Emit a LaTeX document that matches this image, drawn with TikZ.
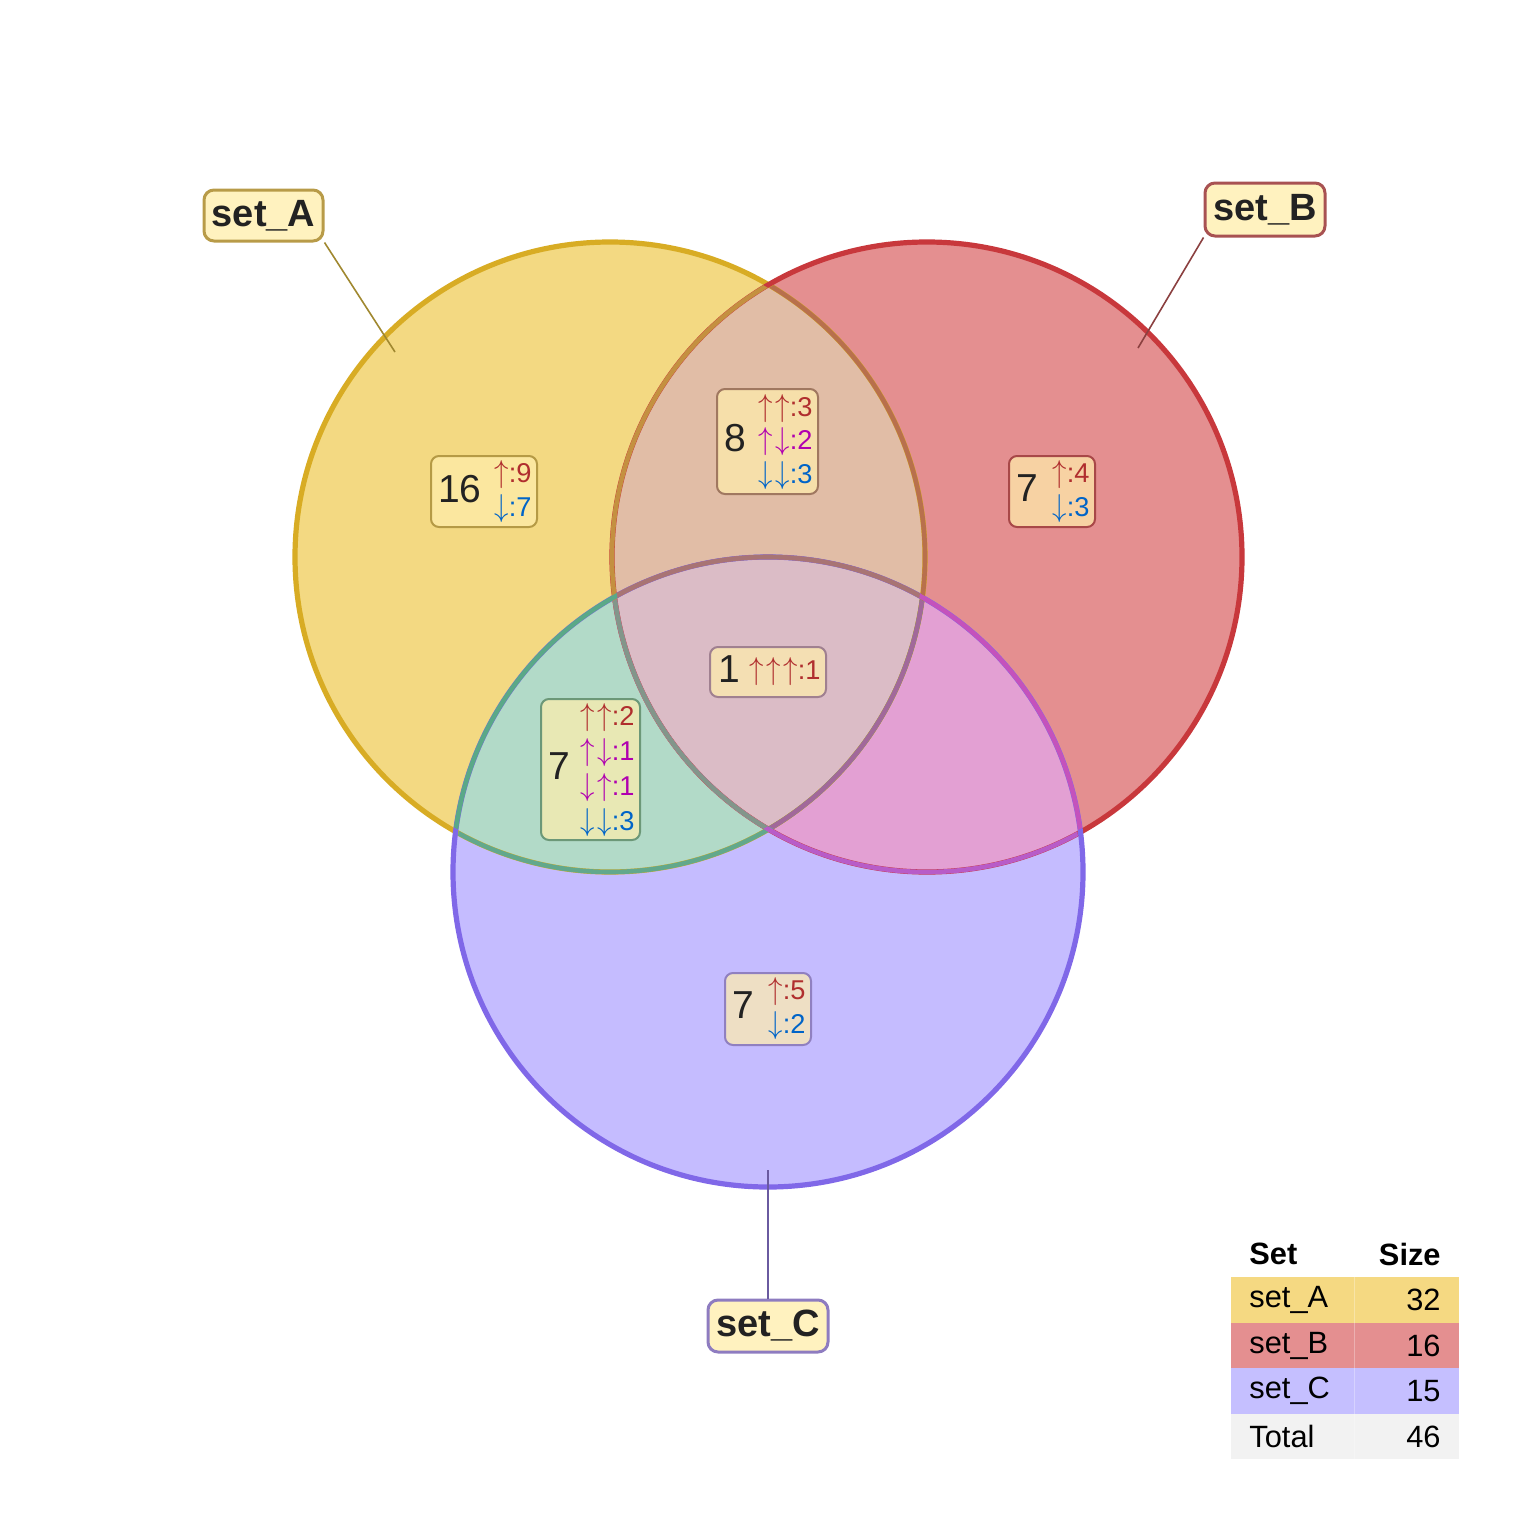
\documentclass[tikz,border=0pt]{standalone}
\usepackage{fontspec}
\usepackage{graphicx}
\setmainfont{Liberation Sans}
\newcommand\myup{\scalebox{1}[1.1]{$\uparrow$}}
\newcommand\mydn{\scalebox{1}[1.1]{$\downarrow$}}
\newcommand\sep{\kern1.2pt}
\definecolor{Afill}{HTML}{F3D982}
\definecolor{Bfill}{HTML}{E48F90}
\definecolor{Cfill}{HTML}{C5BCFF}
\definecolor{ABfill}{HTML}{E1BDA6}
\definecolor{ACfill}{HTML}{B2DAC8}
\definecolor{BCfill}{HTML}{E3A0D3}
\definecolor{ABCfill}{HTML}{DBBCC6}
\definecolor{Astroke}{HTML}{D8AC24}
\definecolor{Bstroke}{HTML}{C8383C}
\definecolor{Cstroke}{HTML}{8068E8}
\definecolor{AinB}{HTML}{B8704C}
\definecolor{AinC}{HTML}{62A88C}
\definecolor{AinBC}{HTML}{A2689A}
\definecolor{BinA}{HTML}{C49040}
\definecolor{BinC}{HTML}{B85CC8}
\definecolor{BinAC}{HTML}{82968A}
\definecolor{CinA}{HTML}{5AA888}
\definecolor{CinB}{HTML}{C452BC}
\definecolor{CinAB}{HTML}{A87474}
\definecolor{boxfill}{HTML}{FFEEAC}
\definecolor{labfill}{HTML}{FFF2BF}
\definecolor{txt}{HTML}{222222}
\definecolor{up}{HTML}{B02E2E}
\definecolor{mix}{HTML}{B000B0}
\definecolor{dn}{HTML}{0064C8}
\definecolor{bxA}{HTML}{B59A45}
\definecolor{bxAB}{HTML}{A07860}
\definecolor{bxB}{HTML}{A84848}
\definecolor{bxAC}{HTML}{6C9878}
\definecolor{bxABC}{HTML}{A08090}
\definecolor{bxC}{HTML}{9080C0}
\definecolor{lbA}{HTML}{B89B48}
\definecolor{lbB}{HTML}{A85252}
\definecolor{lbC}{HTML}{8E7CC0}
\definecolor{lnA}{HTML}{A08830}
\definecolor{lnB}{HTML}{8B4040}
\definecolor{lnC}{HTML}{6A5AA0}
\definecolor{rowA}{HTML}{F5D982}
\definecolor{rowB}{HTML}{E48F90}
\definecolor{rowC}{HTML}{C5BFFF}
\definecolor{rowT}{HTML}{F2F2F2}
\begin{document}
\begin{tikzpicture}[x=0.5pt,y=-0.5pt,
  cnt/.style={font=\fontsize{19.5}{22}\selectfont, text=txt, inner sep=0pt},
  arr/.style={font=\fontsize{13.6}{15}\selectfont, inner sep=0pt, anchor=base east},
  rbox/.style={draw=#1, line width=1pt, rounded corners=4pt, fill=boxfill, fill opacity=0.71, inner sep=0pt},
  setlab/.style={draw=#1, line width=1.5pt, rounded corners=5pt, fill=labfill, font=\bfseries\fontsize{19}{22}\selectfont, text=txt, minimum width=60pt, minimum height=26pt, inner sep=0pt},
  ring/.style={line width=2.6pt, draw=#1},
  iring/.style={line width=2.3pt, draw=#1},
  tab/.style={font=\fontsize{15.4}{18}\selectfont, text=black, inner sep=0pt},
  tabh/.style={font=\bfseries\fontsize{15.4}{18}\selectfont, text=black, inner sep=0pt},
  lead/.style={line width=0.8pt, draw=#1}]
\useasboundingbox (0,0) rectangle (1536,1536);
\coordinate (cA) at (610,557);
\coordinate (cB) at (927,557);
\coordinate (cC) at (768,872);
\def\rr{315}
\def\rc{312}
% region fills
\fill[Afill] (cA) circle[radius=\rr];
\fill[Bfill] (cB) circle[radius=\rr];
\fill[Cfill] (cC) circle[radius=\rr];
\begin{scope}\clip (cA) circle[radius=\rr]; \fill[ABfill] (cB) circle[radius=\rr]; \fill[ACfill] (cC) circle[radius=\rr];\end{scope}
\begin{scope}\clip (cB) circle[radius=\rr]; \fill[BCfill] (cC) circle[radius=\rr];\end{scope}
\begin{scope}\clip (cA) circle[radius=\rr]; \clip (cB) circle[radius=\rr]; \fill[ABCfill] (cC) circle[radius=\rr];\end{scope}
% outer strokes
\draw[ring=Astroke] (cA) circle[radius=\rr];
\draw[ring=Bstroke] (cB) circle[radius=\rr];
\draw[ring=Cstroke] (cC) circle[radius=\rr];
% inner strokes
\begin{scope}\clip (cB) circle[radius=\rc]; \draw[iring=AinB] (cA) circle[radius=\rr];\end{scope}
\begin{scope}\clip (cC) circle[radius=\rc]; \draw[iring=AinC] (cA) circle[radius=\rr];\end{scope}
\begin{scope}\clip (cB) circle[radius=\rc]; \clip (cC) circle[radius=\rc]; \draw[iring=AinBC] (cA) circle[radius=\rr];\end{scope}
\begin{scope}\clip (cA) circle[radius=\rc]; \draw[iring=BinA] (cB) circle[radius=\rr];\end{scope}
\begin{scope}\clip (cC) circle[radius=\rc]; \draw[iring=BinC] (cB) circle[radius=\rr];\end{scope}
\begin{scope}\clip (cA) circle[radius=\rc]; \clip (cC) circle[radius=\rc]; \draw[iring=BinAC] (cB) circle[radius=\rr];\end{scope}
\begin{scope}\clip (cA) circle[radius=\rc]; \draw[iring=CinA] (cC) circle[radius=\rr];\end{scope}
\begin{scope}\clip (cB) circle[radius=\rc]; \draw[iring=CinB] (cC) circle[radius=\rr];\end{scope}
\begin{scope}\clip (cA) circle[radius=\rc]; \clip (cB) circle[radius=\rc]; \draw[iring=CinAB] (cC) circle[radius=\rr];\end{scope}
% region boxes
\node[rbox=bxA, minimum width=53pt, minimum height=35.5pt] (bA) at (484,491.5) {};
\node[cnt] (nA) at (460,489) {16};
\node[arr, text=up] (nA1) at (532,482) {\myup:9};
\node[arr, text=dn] (nA2) at (532,516) {\mydn:7};

\node[rbox=bxAB, minimum width=50.5pt, minimum height=52.5pt] (bAB) at (767.5,441.5) {};
\node[cnt] (nAB) at (735,438) {8};
\node[arr, text=up] (nAB1) at (813,416) {\myup\sep\myup:3};
\node[arr, text=mix] (nAB2) at (813,449) {\myup\sep\mydn:2};
\node[arr, text=dn] (nAB3) at (813,483) {\mydn\sep\mydn:3};

\node[rbox=bxB, minimum width=43pt, minimum height=35.5pt] (bB) at (1052,491.5) {};
\node[cnt] (nB) at (1027,488) {7};
\node[arr, text=up] (nB1) at (1090,482) {\myup:4};
\node[arr, text=dn] (nB2) at (1090,516) {\mydn:3};

\node[rbox=bxAC, minimum width=49.5pt, minimum height=70.5pt] (bAC) at (590.5,769.5) {};
\node[cnt] (nAC) at (559,766) {7};
\node[arr, text=up] (nAC1) at (635,725) {\myup\sep\myup:2};
\node[arr, text=mix] (nAC2) at (635,760) {\myup\sep\mydn:1};
\node[arr, text=mix] (nAC3) at (635,795) {\mydn\sep\myup:1};
\node[arr, text=dn] (nAC4) at (635,830) {\mydn\sep\mydn:3};

\node[rbox=bxABC, minimum width=58pt, minimum height=25pt] (bABC) at (768,672) {};
\node[cnt] (nABC) at (729,669) {1};
\node[arr, text=up] (nABC1) at (821,679) {\myup\sep\myup\sep\myup:1};

\node[rbox=bxC, minimum width=43pt, minimum height=36pt] (bC) at (768,1009) {};
\node[cnt] (nC) at (743,1005) {7};
\node[arr, text=up] (nC1) at (806,999) {\myup:5};
\node[arr, text=dn] (nC2) at (806,1033) {\mydn:2};
% set labels
\coordinate (pA) at (395,352);
\coordinate (pB) at (1138,348);
\coordinate (pC) at (768,1170);
\node[setlab=lbA, minimum width=59.5pt, minimum height=25.5pt] (lA) at (263.5,215.5) {set\_A};
\node[setlab=lbB, minimum height=26.5pt] (lB) at (1265,209.5) {set\_B};
\node[setlab=lbC] (lC) at (768,1326) {set\_C};
\draw[lead=lnA] (lA.south east) -- (pA);
\draw[lead=lnB] (lB.south west) -- (pB);
\draw[lead=lnC] (lC.north) -- (pC);
% table
\fill[rowA] (1231,1277) rectangle (1459,1322.5);
\fill[rowB] (1231,1322.5) rectangle (1459,1368);
\fill[rowC] (1231,1368) rectangle (1459,1413.5);
\fill[rowT] (1231,1413.5) rectangle (1459,1459);
\draw[white, opacity=0.3, line width=0.5pt] (1354,1277) -- (1354,1459);
\node[tabh, anchor=west] (th1) at (1249,1254) {Set};
\node[tabh, anchor=east] (th2) at (1441,1254) {Size};
\node[tab, anchor=west] (t11) at (1249,1300) {set\_A};
\node[tab, anchor=east] (t12) at (1441,1300) {32};
\node[tab, anchor=west] (t21) at (1249,1345.5) {set\_B};
\node[tab, anchor=east] (t22) at (1441,1345.5) {16};
\node[tab, anchor=west] (t31) at (1249,1391) {set\_C};
\node[tab, anchor=east] (t32) at (1441,1391) {15};
\node[tab, anchor=west] (t41) at (1249,1436.5) {Total};
\node[tab, anchor=east] (t42) at (1441,1436.5) {46};
\end{tikzpicture}
\end{document}
